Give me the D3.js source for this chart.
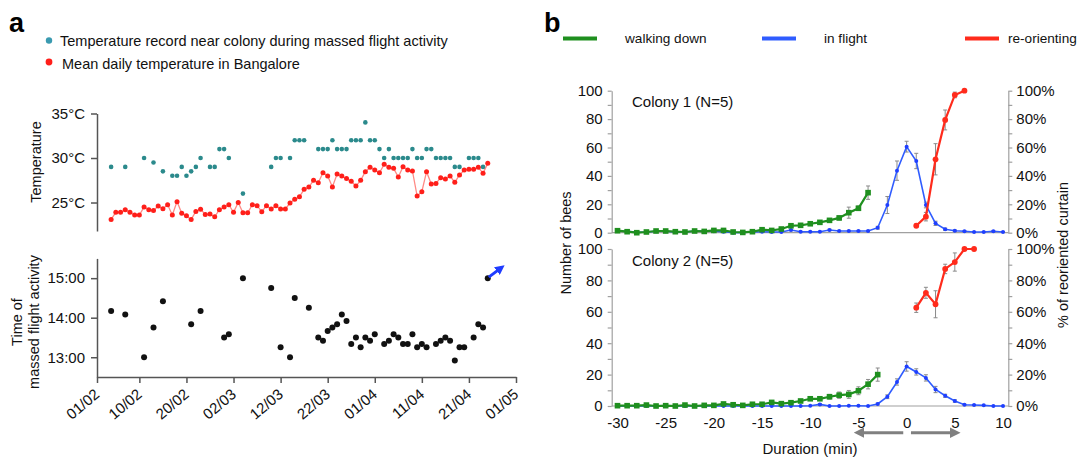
<!DOCTYPE html>
<html>
<head>
<meta charset="utf-8">
<title>Massed flight activity and re-orienting</title>
<script src="https://cdn.jsdelivr.net/npm/d3@7"></script>
<style>
  body { margin: 0; background: #fff; }
  svg { font-family: "Liberation Sans", Arial, sans-serif; }
</style>
</head>
<body>
<svg width="1078" height="462"></svg>
<script>
// ---------- panel a data ----------
var dateTicks = ["01/02", "10/02", "20/02", "02/03", "12/03", "22/03", "01/04", "11/04", "21/04", "01/05"];
var tempTicks = [25, 30, 35];
var hourTicks = [13, 14, 15];

// mean daily temperature in Bangalore, one value per day from meanTempStart
var meanTempStart = "04/02";
var meanTemp = [23.1, 23.9, 23.9, 24.2, 23.9, 23.6, 23.6, 24.5, 24.2, 24.1,
                24.6, 24.3, 24.75, 23.6, 25.1, 23.8, 23.5, 23.1, 24.0, 24.25,
                23.65, 23.7, 23.4, 24.2, 24.5, 24.75, 23.9, 25.0, 23.85, 23.85,
                24.75, 24.64, 23.97, 24.64, 24.27, 24.64, 24.27, 24.27, 24.94, 25.36,
                25.65, 26.48, 26.74, 27.49, 27.23, 28.35, 27.98, 26.74, 28.2, 27.98,
                27.7, 27.38, 26.85, 27.49, 28.46, 28.95, 28.65, 28.35, 29.29, 28.95,
                28.84, 27.87, 29.03, 28.65, 28.54, 25.73, 26.22, 28.46, 27.08, 27.15,
                27.79, 27.64, 27.98, 27.27, 28.09, 28.65, 28.73, 28.73, 28.95, 28.28, 29.4];

// temperature near colony during massed flight activity
var colonyDates = ["04/02", "07/02", "11/02", "13/02", "15/02", "17/02", "18/02", "19/02", "20/02", "21/02",
                   "22/02", "23/02", "25/02", "26/02", "27/02", "28/02", "01/03", "04/03", "10/03", "11/03",
                   "12/03", "14/03", "15/03", "16/03", "17/03", "20/03", "21/03", "22/03", "23/03", "24/03",
                   "25/03", "26/03", "27/03", "28/03", "29/03", "30/03", "31/03", "01/04", "02/04", "03/04",
                   "04/04", "05/04", "06/04", "07/04", "08/04", "09/04", "10/04", "11/04", "12/04", "13/04",
                   "14/04", "15/04", "16/04", "17/04", "18/04", "19/04", "21/04", "22/04", "23/04", "24/04"];
var colonyTemp = [29, 29, 30, 29.5, 28.5, 28, 28, 29, 28, 28.5,
                  29, 30, 29, 29, 31, 31, 30, 26, 29, 30,
                  30, 30, 32, 32, 32, 31, 31, 31, 32, 31,
                  31, 31, 32, 32, 32, 34, 32, 32, 31, 30,
                  31, 30, 30, 30, 30, 31, 30, 30, 31, 31,
                  30, 30, 30, 30, 29, 29, 30, 30, 30, 29];

// time of massed flight activity
var flightDates = ["04/02", "07/02", "11/02", "13/02", "15/02", "21/02", "23/02", "28/02", "01/03", "04/03",
                   "10/03", "12/03", "14/03", "15/03", "18/03", "20/03", "21/03", "22/03", "23/03", "24/03",
                   "25/03", "26/03", "27/03", "28/03", "29/03", "30/03", "31/03", "01/04", "03/04", "04/04",
                   "05/04", "06/04", "07/04", "08/04", "09/04", "10/04", "11/04", "12/04", "14/04", "15/04",
                   "16/04", "17/04", "18/04", "19/04", "20/04", "22/04", "23/04", "24/04", "25/04"];
var flightTimes = ["14:10", "14:05", "13:00", "13:45", "14:25", "13:50", "14:10", "13:30", "13:35", "15:00",
                   "14:45", "13:15", "13:00", "14:30", "14:15", "13:30", "13:25", "13:40", "13:45", "13:50",
                   "14:05", "13:55", "13:20", "13:30", "13:15", "13:30", "13:25", "13:35", "13:20", "13:25",
                   "13:35", "13:30", "13:20", "13:20", "13:35", "13:15", "13:20", "13:15", "13:20", "13:25",
                   "13:30", "13:25", "12:55", "13:15", "13:15", "13:30", "13:50", "13:45", "15:00"];

// ---------- panel b data ----------
var minuteTicks = [-30, -25, -20, -15, -10, -5, 0, 5, 10];
var countTicks = [0, 10, 20, 30, 40, 50, 60, 70, 80, 90, 100];

// colony 1
var walk1Start = -30;
var walk1 = [1.4, 0.7, 0, 0.5, 1.2, 1.2, 0.7, 0.5, 1.2, 0.9, 1.6, 1.6, 0.5, 0.2,
             0.7, 2.1, 1.6, 2.6, 4.9, 5.2, 6.3, 7.3, 8.7, 10.4, 14.1, 17.2, 28.2];
var walk1Err = [0.6, 0.5, 0.3, 0.4, 0.5, 0.5, 0.4, 0.4, 0.5, 0.5, 0.6, 0.6, 0.4, 0.3,
                0.4, 0.7, 0.6, 0.7, 0.9, 0.9, 1, 1, 1.2, 1.4, 3.9, 1.6, 4.7];
var fly1Start = -30;
var fly1 = [1.2, 1.0, 0.2, 0.5, 1.0, 1.0, 0.5, 0.5, 1.2, 1.2, 1.0, 0.7, 0.0, 0.2,
            0.5, 0.7, 0.5, 0.5, 1.9, 0.7, 0.7, 0.7, 1.9, 1.2, 1.2, 1.2, 1.2, 3.5,
            19.5, 43.7, 60.6, 50.5, 19.5, 6.6, 2.4, 1.4, 1.0, 0.5, 0.5, 1.0, 0.5];
var fly1Err = [0.4, 0.4, 0.2, 0.3, 0.4, 0.4, 0.3, 0.3, 0.4, 0.4, 0.4, 0.3, 0.2, 0.2,
               0.3, 0.3, 0.3, 0.3, 0.6, 0.3, 0.3, 0.3, 0.6, 0.4, 0.4, 0.4, 0.4, 1,
               6, 6.8, 3.8, 5.4, 2, 1.5, 0.8, 0.5, 0.4, 0.3, 0.3, 0.4, 0.3];
var orient1Start = 1;
var orient1 = [4.9, 11.3, 51.7, 79.4, 97, 100];
var orient1Err = [1, 3, 11, 7, 2, 0];

// colony 2
var walk2Start = -30;
var walk2 = [0.2, 0.2, 0.2, 0.6, 0, 0.2, 0, 0.6, 0, 0.4, 0.4, 1.3, 0.8, 0.4,
             1.1, 1.1, 2.3, 1.5, 2.1, 3.2, 4.6, 4.6, 5.9, 6.9, 7.4, 9.7, 13.9, 20];
var walk2Err = [0.3, 0.3, 0.3, 0.4, 0.2, 0.3, 0.2, 0.4, 0.2, 0.4, 0.4, 0.5, 0.4, 0.4,
                0.5, 0.5, 0.7, 0.6, 0.7, 0.9, 1, 1, 1.5, 2, 2.5, 2.5, 3, 4.2];
var fly2Start = -30;
var fly2 = [0, 0, 0, 0, 0, 0, 0, 0, 0, 0, 0, 0, 0, 0,
            0, 0, 0, 0, 0, 0, 0.2, 1.0, 0, 0, 0.2, 0.2, 0, 1.3,
            5.9, 15.3, 25.2, 21.7, 17.9, 10.5, 6.5, 3.2, 0.8, 0.6, 0.4, 0, 0];
var fly2Err = [0, 0, 0, 0, 0, 0, 0, 0, 0, 0, 0, 0, 0, 0,
               0, 0, 0, 0, 0, 0, 0.2, 0.6, 0, 0, 0.2, 0.2, 0, 0.6,
               1.2, 2, 3, 2, 2, 2, 1, 0.8, 0.4, 0.3, 0.2, 0, 0];
var orient2Start = 1;
var orient2 = [62.6, 72.1, 64.8, 87.3, 91.7, 100, 100];
var orient2Err = [3, 3.5, 8.6, 3, 5.8, 0, 0];

// ---------- drawing ----------
var svg = d3.select("svg");
var teal = "#2b8a8c", redA = "#ff1f1a", redLine = "#ff8a85";
var green = "#1f8f1f", blue = "#2f5cff", red = "#ff2b1c", grey = "#a0a0a0";

var parseDay = function (s) { return d3.utcParse("%d/%m/%Y")(s + "/2013"); };
var parseTime = function (s) { var p = s.split(":"); return +p[0] + p[1] / 60; };

var x = d3.scaleUtc().domain([parseDay("01/02"), parseDay("01/05")]).range([97, 516]);
var yT = d3.scaleLinear().domain([21.8, 35]).range([231, 113.5]);
var yH = d3.scaleLinear().domain([12.5, 15.5]).range([377, 258.4]);

function styleAxis(g, col, width, size) {
    g.attr("font-family", null).attr("font-size", size);
    g.selectAll("path, line").attr("stroke", col).attr("stroke-width", width);
    g.selectAll("text").attr("fill", "#111");
}

// panel letters
svg.append("text").attr("x", 9).attr("y", 32).attr("font-size", 27).attr("font-weight", "bold").text("a");
svg.append("text").attr("x", 544).attr("y", 32).attr("font-size", 27).attr("font-weight", "bold").text("b");

// panel a legend
svg.append("circle").attr("cx", 49).attr("cy", 40.5).attr("r", 3.2).attr("fill", "#3a9ab0");
svg.append("text").attr("x", 60).attr("y", 46).attr("font-size", 14.5).attr("fill", "#111")
    .text("Temperature record near colony during massed flight activity");
svg.append("circle").attr("cx", 49).attr("cy", 62).attr("r", 3.4).attr("fill", redA);
svg.append("text").attr("x", 62).attr("y", 69).attr("font-size", 14.5).attr("fill", "#111")
    .text("Mean daily temperature in Bangalore");

// temperature axis
svg.append("g").attr("transform", "translate(97,0)")
    .call(d3.axisLeft(yT).tickValues(tempTicks).tickFormat(function (d) { return d + "°C"; })
        .tickSize(6).tickSizeOuter(0).tickPadding(6))
    .call(styleAxis, "#555", 1.5, 15);
svg.append("text").attr("transform", "translate(41,162) rotate(-90)").attr("text-anchor", "middle")
    .attr("font-size", 14.5).attr("fill", "#111").text("Temperature");

var meanPts = meanTemp.map(function (v, i) {
    return { d: d3.utcDay.offset(parseDay(meanTempStart), i), v: v };
});
svg.append("path").datum(meanPts)
    .attr("fill", "none").attr("stroke", redLine).attr("stroke-width", 1.3)
    .attr("d", d3.line().x(function (d) { return x(d.d); }).y(function (d) { return yT(d.v); }));
svg.append("g").selectAll("circle").data(meanPts).enter().append("circle")
    .attr("cx", function (d) { return x(d.d); }).attr("cy", function (d) { return yT(d.v); })
    .attr("r", 2.5).attr("fill", redA);

svg.append("g").selectAll("circle").data(colonyDates).enter().append("circle")
    .attr("cx", function (d) { return x(parseDay(d)); })
    .attr("cy", function (d, i) { return yT(colonyTemp[i]); })
    .attr("r", 2.3).attr("fill", teal);

// flight time axis
svg.append("g").attr("transform", "translate(97,0)")
    .call(d3.axisLeft(yH).tickValues(hourTicks).tickFormat(function (d) { return d + ":00"; })
        .tickSize(6).tickSizeOuter(0).tickPadding(6))
    .call(styleAxis, "#555", 1.5, 15);
var xAx = svg.append("g").attr("transform", "translate(0,377)")
    .call(d3.axisBottom(x).tickValues(dateTicks.map(parseDay)).tickFormat(d3.utcFormat("%d/%m"))
        .tickSize(6).tickSizeOuter(0))
    .call(styleAxis, "#555", 1.5, 15);
xAx.selectAll("text").attr("y", 0).attr("dy", 0).attr("text-anchor", "end")
    .attr("transform", "translate(3,19) rotate(-40)");

var yl = svg.append("text").attr("transform", "translate(0,322) rotate(-90)")
    .attr("text-anchor", "middle").attr("font-size", 14.5).attr("fill", "#111");
yl.append("tspan").attr("x", 0).attr("y", 22).text("Time of");
yl.append("tspan").attr("x", 0).attr("y", 39).text("massed flight activity");

svg.append("g").selectAll("circle").data(flightDates).enter().append("circle")
    .attr("cx", function (d) { return x(parseDay(d)); })
    .attr("cy", function (d, i) { return yH(parseTime(flightTimes[i])); })
    .attr("r", 3).attr("fill", "#111");

// blue arrow after the last record
var lastX = x(parseDay(flightDates[flightDates.length - 1]));
var lastY = yH(parseTime(flightTimes[flightTimes.length - 1]));
svg.append("defs").append("marker").attr("id", "bluehead").attr("viewBox", "0 0 10 10")
    .attr("refX", 5).attr("refY", 5).attr("markerWidth", 3.2).attr("markerHeight", 3.2)
    .attr("orient", "auto")
    .append("path").attr("d", "M0,0L10,5L0,10z").attr("fill", "#1f3cff");
svg.append("line").attr("x1", lastX + 1).attr("y1", lastY - 1).attr("x2", lastX + 13).attr("y2", lastY - 10)
    .attr("stroke", "#1f3cff").attr("stroke-width", 3).attr("marker-end", "url(#bluehead)");

// ---------- panel b ----------
var xm = d3.scaleLinear().domain([-30, 10]).range([617.5, 1003]);
var y1 = d3.scaleLinear().domain([0, 100]).range([232.7, 90.7]);
var y2 = d3.scaleLinear().domain([0, 100]).range([406, 249]);

// legend
[[green, 563, "walking down", 625], [blue, 762, "in flight", 824], [red, 965, "re-orienting", 1008]]
    .forEach(function (l) {
        svg.append("line").attr("x1", l[1]).attr("x2", l[1] + 34).attr("y1", 38.5).attr("y2", 38.5)
            .attr("stroke", l[0]).attr("stroke-width", 4);
        svg.append("text").attr("x", l[3]).attr("y", 43).attr("font-size", 13.6).attr("fill", "#111").text(l[2]);
    });

function series(start, vals, errs) {
    return vals.map(function (v, i) { return { m: start + i, v: v, e: errs[i] }; });
}

function drawColony(y, label, walk, fly, orient) {
    svg.append("g").attr("transform", "translate(611.7,0)")
        .call(d3.axisLeft(y).tickValues(countTicks)
            .tickFormat(function (d) { return d % 20 === 0 ? d : ""; })
            .tickSize(4).tickSizeOuter(0).tickPadding(5))
        .call(styleAxis, grey, 1.2, 15);
    svg.append("g").attr("transform", "translate(1008.3,0)")
        .call(d3.axisRight(y).tickValues(countTicks)
            .tickFormat(function (d) { return d % 20 === 0 ? d + "%" : ""; })
            .tickSize(4).tickSizeOuter(0).tickPadding(4))
        .call(styleAxis, grey, 1.2, 15);
    svg.append("line").attr("x1", 611.7).attr("x2", 1008.3).attr("y1", y(0)).attr("y2", y(0))
        .attr("stroke", grey).attr("stroke-width", 1.2);
    svg.append("text").attr("x", 632).attr("y", y(100) + 16.5).attr("font-size", 15).attr("fill", "#111").text(label);

    var line = d3.line().x(function (d) { return xm(d.m); }).y(function (d) { return y(d.v); });
    [[fly, blue, 1.6], [walk, green, 2.2], [orient, red, 2.2]].forEach(function (s) {
        var g = svg.append("g");
        var bars = g.selectAll("g.err").data(s[0].filter(function (d) { return d.e > 0.25; })).enter().append("g")
            .attr("stroke", "#8a8a8a").attr("stroke-width", 1);
        bars.append("line").attr("x1", function (d) { return xm(d.m); }).attr("x2", function (d) { return xm(d.m); })
            .attr("y1", function (d) { return y(d.v - d.e); }).attr("y2", function (d) { return y(d.v + d.e); });
        bars.append("line").attr("x1", function (d) { return xm(d.m) - 2; }).attr("x2", function (d) { return xm(d.m) + 2; })
            .attr("y1", function (d) { return y(d.v + d.e); }).attr("y2", function (d) { return y(d.v + d.e); });
        bars.append("line").attr("x1", function (d) { return xm(d.m) - 2; }).attr("x2", function (d) { return xm(d.m) + 2; })
            .attr("y1", function (d) { return y(d.v - d.e); }).attr("y2", function (d) { return y(d.v - d.e); });
        g.append("path").datum(s[0]).attr("fill", "none").attr("stroke", s[1]).attr("stroke-width", s[2]).attr("d", line);
        if (s[1] === green) {
            g.selectAll("rect").data(s[0]).enter().append("rect")
                .attr("x", function (d) { return xm(d.m) - 2.8; }).attr("y", function (d) { return y(d.v) - 2.8; })
                .attr("width", 5.6).attr("height", 5.6).attr("fill", green);
        } else {
            g.selectAll("circle").data(s[0]).enter().append("circle")
                .attr("cx", function (d) { return xm(d.m); }).attr("cy", function (d) { return y(d.v); })
                .attr("r", s[1] === red ? 2.9 : 2).attr("fill", s[1] === red ? red : "#1f3fff");
        }
    });
}

drawColony(y1, "Colony 1 (N=5)", series(walk1Start, walk1, walk1Err), series(fly1Start, fly1, fly1Err),
    series(orient1Start, orient1, orient1Err));
drawColony(y2, "Colony 2 (N=5)", series(walk2Start, walk2, walk2Err), series(fly2Start, fly2, fly2Err),
    series(orient2Start, orient2, orient2Err));

// duration axis labels
var xb = svg.append("g").attr("transform", "translate(0,406)")
    .call(d3.axisBottom(xm).tickValues(minuteTicks).tickFormat(function (d) { return String(d); })
        .tickSize(0).tickPadding(11))
    .call(styleAxis, grey, 1.2, 15);
xb.select(".domain").remove();
svg.append("text").attr("x", 810).attr("y", 454).attr("text-anchor", "middle").attr("font-size", 15)
    .attr("fill", "#111").text("Duration (min)");
svg.append("text").attr("transform", "translate(571,243) rotate(-90)").attr("text-anchor", "middle")
    .attr("font-size", 14.5).attr("fill", "#111").text("Number of bees");
svg.append("text").attr("transform", "translate(1068,255) rotate(-90)").attr("text-anchor", "middle")
    .attr("font-size", 14.5).attr("fill", "#111").text("% of reoriented curtain");

// grey direction arrows under the axis
var defs = svg.select("defs");
defs.append("marker").attr("id", "greyhead").attr("viewBox", "0 0 10 10")
    .attr("refX", 2).attr("refY", 5).attr("markerWidth", 3.6).attr("markerHeight", 3.6)
    .attr("orient", "auto")
    .append("path").attr("d", "M0,0L10,5L0,10z").attr("fill", "#808080");
[[-0.35, -4.6], [0.45, 4.7]].forEach(function (a) {
    svg.append("line").attr("x1", xm(a[0])).attr("x2", xm(a[1])).attr("y1", 432.7).attr("y2", 432.7)
        .attr("stroke", "#808080").attr("stroke-width", 3).attr("marker-end", "url(#greyhead)");
});
</script>
</body>
</html>
